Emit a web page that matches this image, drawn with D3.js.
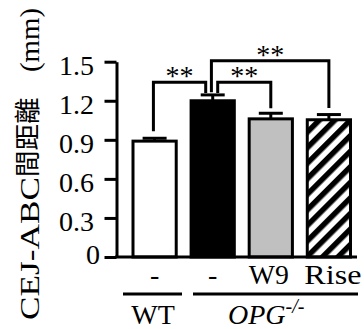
<!DOCTYPE html>
<html>
<head>
<meta charset="utf-8">
<script src="https://cdn.jsdelivr.net/npm/d3@7"></script>
<style>
  body { margin: 0; background: #fff; }
  text { font-family: "Liberation Serif", "Times New Roman", serif; fill: #000; }
</style>
</head>
<body>
<div id="chart"></div>
<script>
// data
var groups = ['WT', 'KO', 'W9', 'Rise'];
var treatLabels = ['-', '-', 'W9', 'Rise'];
var means = [0.89, 1.20, 1.061, 1.054];
var errs = [0.022, 0.045, 0.043, 0.04];
var yTicks = [0, 0.3, 0.6, 0.9, 1.2, 1.5];
// significance brackets: from, to, level, leg ends
var sigFrom = ['WT', 'KO', 'KO'];
var sigTo = ['KO', 'W9', 'Rise'];
var sigLevel = [1.342, 1.342, 1.508];
var sigFromEnd = [0.965, 1.26, 1.265];
var sigToEnd = [1.26, 1.142, 1.144];
var sigText = ['**', '**', '**'];

var W = 364, H = 329;
var svg = d3.select('#chart').append('svg')
    .attr('width', W)
    .attr('height', H);

var y = d3.scaleLinear().domain([0, 1.5]).range([257, 61.7]);
var x = d3.scaleBand().domain(groups).range([133, 350.5]).paddingInner(0.256).paddingOuter(0);
var cx = function(g) { return x(g) + x.bandwidth() / 2; };

var fills = ['#fff', '#000', '#c0c0c0', 'url(#hatch)'];

var defs = svg.append('defs');
var pat = defs.append('pattern')
    .attr('id', 'hatch')
    .attr('patternUnits', 'userSpaceOnUse')
    .attr('width', 11).attr('height', 11)
    .attr('patternTransform', 'rotate(45)');
pat.append('rect').attr('width', 11).attr('height', 11).attr('fill', '#fff');
pat.append('rect').attr('width', 5.5).attr('height', 11).attr('fill', '#000');

// bars
svg.selectAll('.bar')
    .data(groups)
  .enter().append('rect')
    .attr('class', 'bar')
    .attr('x', function(d) { return x(d); })
    .attr('width', x.bandwidth())
    .attr('y', function(d, i) { return y(means[i]); })
    .attr('height', function(d, i) { return y(0) - y(means[i]); })
    .attr('fill', function(d, i) { return fills[i]; })
    .attr('stroke', '#000')
    .attr('stroke-width', 3);

// error bars
var eb = svg.selectAll('.err')
    .data(groups)
  .enter().append('g').attr('class', 'err');
eb.append('line')
    .attr('x1', cx).attr('x2', cx)
    .attr('y1', function(d, i) { return y(means[i]); })
    .attr('y2', function(d, i) { return y(means[i] + errs[i]); })
    .attr('stroke', '#000').attr('stroke-width', 3);
eb.append('line')
    .attr('x1', function(d) { return cx(d) - 12; })
    .attr('x2', function(d) { return cx(d) + 12; })
    .attr('y1', function(d, i) { return y(means[i] + errs[i]); })
    .attr('y2', function(d, i) { return y(means[i] + errs[i]); })
    .attr('stroke', '#000').attr('stroke-width', 3);

// axes
var yAxis = d3.axisLeft(y).tickValues(yTicks).tickSize(12).tickSizeOuter(0).tickFormat('');
var ya = svg.append('g').attr('transform', 'translate(116.5,0)').call(yAxis);
ya.select('.domain').attr('stroke-width', 3);
ya.selectAll('.tick line').attr('stroke-width', 3);

svg.append('line')
    .attr('x1', 115).attr('x2', 357)
    .attr('y1', y(0)).attr('y2', y(0))
    .attr('stroke', '#000').attr('stroke-width', 3);

svg.selectAll('.ylab')
    .data(yTicks)
  .enter().append('text')
    .attr('class', 'ylab')
    .attr('x', function(d) { return d === 0 ? 100 : 94; })
    .attr('y', function(d) { return y(d) + (d === 0 ? 7 : 13); })
    .attr('text-anchor', 'end')
    .style('font-size', '28px')
    .text(function(d) { return d === 0 ? '0' : d3.format('.1f')(d); });

// y axis title
var yt = svg.append('g').attr('transform', 'translate(39,320) rotate(-90)');
yt.append('text').attr('x', 0).attr('y', 0)
    .attr('textLength', 143).attr('lengthAdjust', 'spacingAndGlyphs')
    .style('font-size', '28px').text('CEJ-ABC');
yt.append('text').attr('x', 143).attr('y', -2)
    .style('font-family', '"Noto Sans CJK TC", "Noto Sans CJK JP", sans-serif')
    .style('font-size', '26.5px').text('間距離');
yt.append('text').attr('x', 248).attr('y', 0)
    .attr('textLength', 64).attr('lengthAdjust', 'spacingAndGlyphs')
    .style('font-size', '28px').text('(mm)');

// treatment labels
var labLen = { W9: 40, Rise: 57 };
svg.selectAll('.xlab')
    .data(groups)
  .enter().append('text')
    .attr('class', 'xlab')
    .attr('x', function(d) { return cx(d) + (d === 'Rise' ? 4 : d === 'W9' ? -2 : 0); })
    .attr('y', 284)
    .attr('text-anchor', 'middle')
    .attr('textLength', function(d) { return labLen[d] || null; })
    .attr('lengthAdjust', 'spacingAndGlyphs')
    .style('font-size', '28px')
    .text(function(d, i) { return treatLabels[i]; });

// genotype lines and labels
svg.append('line').attr('x1', 123).attr('x2', 182).attr('y1', 294).attr('y2', 294)
    .attr('stroke', '#000').attr('stroke-width', 3);
svg.append('line').attr('x1', 193).attr('x2', 358).attr('y1', 294).attr('y2', 294)
    .attr('stroke', '#000').attr('stroke-width', 3);
svg.append('text').attr('x', 153).attr('y', 324).attr('text-anchor', 'middle')
    .style('font-size', '28px').text('WT');
var opg = svg.append('text').attr('x', 228).attr('y', 324)
    .style('font-size', '28px').style('font-style', 'italic');
opg.append('tspan').text('OPG');
opg.append('tspan').attr('dy', -11).style('font-size', '20px').text('-/-');

// significance brackets
var fromDx = [-1.2, 5, -1.3];
var toDx = [-7, 0, 0];
sigFrom.forEach(function(f, i) {
  var x1 = cx(f) + fromDx[i];
  var x2 = cx(sigTo[i]) + toDx[i];
  var pts = [[x1, y(sigFromEnd[i])], [x1, y(sigLevel[i])], [x2, y(sigLevel[i])], [x2, y(sigToEnd[i])]];
  svg.append('path')
      .attr('d', d3.line()(pts))
      .attr('fill', 'none')
      .attr('stroke', '#000')
      .attr('stroke-width', 3)
      .attr('stroke-linejoin', 'miter');
  svg.append('text')
      .attr('x', (x1 + x2) / 2)
      .attr('y', y(sigLevel[i]) + 3)
      .attr('text-anchor', 'middle')
      .style('font-size', '28px')
      .text(sigText[i]);
});
</script>
</body>
</html>
